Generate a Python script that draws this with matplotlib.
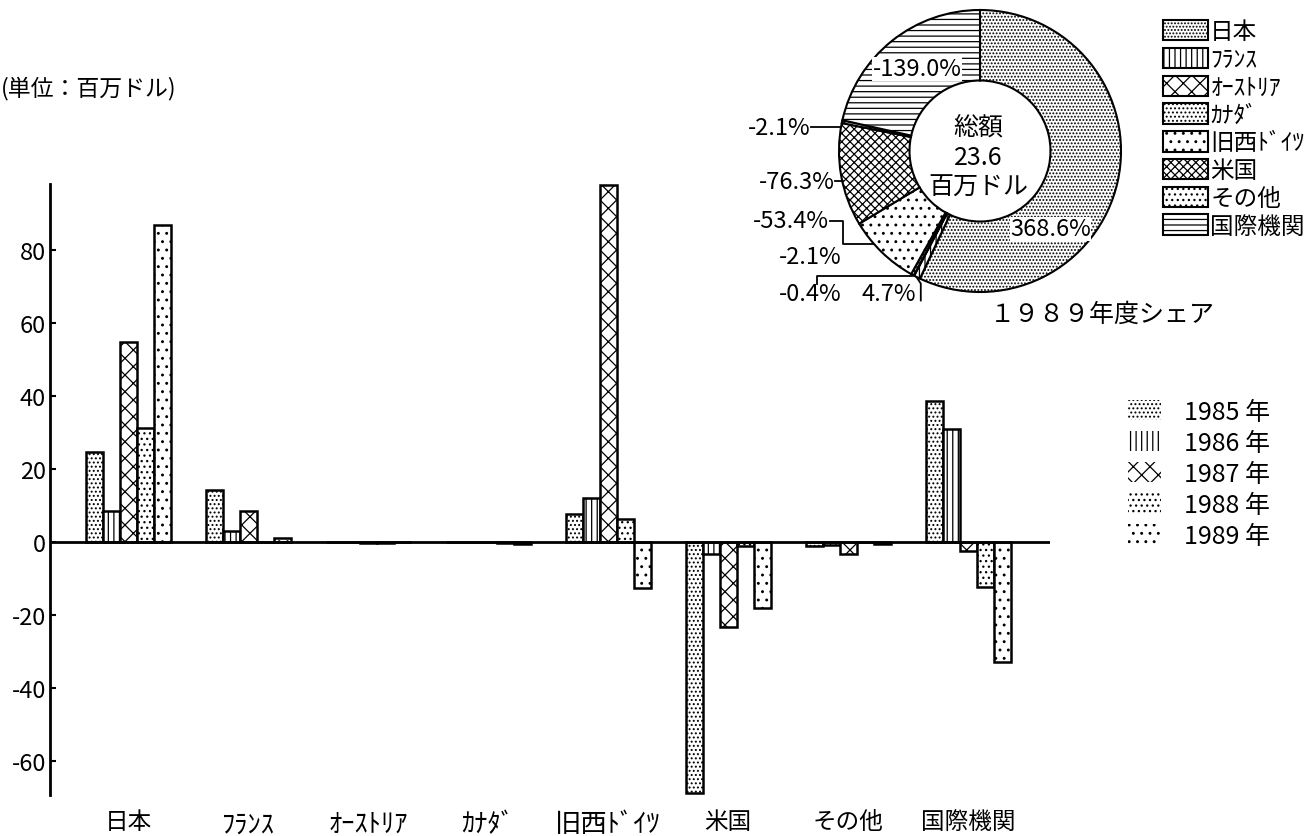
import matplotlib
matplotlib.use("Agg")
import matplotlib.pyplot as plt
import matplotlib.patches as mpatches
import numpy as np

plt.rcParams['font.family'] = ['Noto Sans CJK JP', 'DejaVu Sans']
plt.rcParams['axes.unicode_minus'] = False
plt.rcParams['hatch.linewidth'] = 0.9

# Bar chart data (million dollars)
countries = ['日本', 'ﾌﾗﾝｽ', 'ｵｰｽﾄﾘｱ', 'ｶﾅﾀﾞ', '旧西ﾄﾞｲﾂ', '米国', 'その他', '国際機関']
years = ['1985 年', '1986 年', '1987 年', '1988 年', '1989 年']
v1985 = [24.7, 14.2, 0.0, 0.0, 7.6, -68.8, -1.2, 38.8]
v1986 = [8.4, 2.9, 0.0, 0.0, 12.2, -3.3, -0.7, 31.0]
v1987 = [55.0, 8.4, -0.2, 0.0, 97.9, -23.2, -3.3, -2.4]
v1988 = [31.3, 0.0, -0.3, -0.2, 6.2, -1.0, 0.0, -12.4]
v1989 = [87.0, 1.1, -0.1, -0.5, -12.6, -18.0, -0.5, -32.8]
yticks = [-60, -40, -20, 0, 20, 40, 60, 80]

# 1989 share (donut)
share_names = ['日本', 'ﾌﾗﾝｽ', 'ｵｰｽﾄﾘｱ', 'ｶﾅﾀﾞ', '旧西ﾄﾞｲﾂ', '米国', 'その他', '国際機関']
share_pct = [368.6, 4.7, -0.4, -2.1, -53.4, -76.3, -2.1, -139.0]
share_total = 23.6

year_hatches = ['....', '|||', 'xx', '...', '..']
pie_hatches = ['.....', '|||', 'xx', '....', '..', 'xxxx', '...', '---']

W, H = 1316, 837
fig = plt.figure(figsize=(W / 100, H / 100), dpi=100)


def fx(px):
    return px / W


def fy(py):
    return 1 - py / H


def halfwidth(s):
    # half-width katakana labels look small, give them a larger size
    return any('\uff61' <= c <= '\uff9f' for c in s)


# ---- bar chart ----
ax = fig.add_axes([fx(50), fy(800), fx(1000), (800 - 184) / H])
series = [v1985, v1986, v1987, v1988, v1989]
x = np.arange(len(countries))
bw = 17 / 120
for j, vals in enumerate(series):
    ax.bar(x + (j - 2) * bw, vals, width=bw, color='white', edgecolor='black',
           linewidth=1.8, hatch=year_hatches[j], zorder=2)

ax.axhline(0, color='black', lw=2, zorder=3)
ax.set_xlim(-0.65, 7.683)
ax.set_ylim(-70.5, 98.5)
for s in ['top', 'right', 'bottom']:
    ax.spines[s].set_visible(False)
ax.spines['left'].set_linewidth(2)
ax.spines['left'].set_bounds(-69.3, 98.3)
ax.set_yticks(yticks)
ax.tick_params(axis='y', direction='in', length=4, width=1.5, pad=3, labelsize=17)
ax.set_xticks(x, countries, fontsize=17)
ax.tick_params(axis='x', length=0, pad=8)
for t in ax.get_xticklabels():
    if halfwidth(t.get_text()):
        t.set_fontsize(19)

fig.text(fx(1), fy(88), '(単位：百万ドル)', fontsize=16.5, ha='left', va='center')

# year legend
year_handles = [mpatches.Patch(facecolor='white', edgecolor='black', linewidth=0, hatch=h)
                for h in year_hatches]
fig.legend(year_handles, years, loc='upper left', bbox_to_anchor=(fx(1128), fy(400)),
           frameon=False, fontsize=18, handlelength=1.32, handleheight=0.85,
           handletextpad=0.9, labelspacing=0.2, borderpad=0, borderaxespad=0)

# ---- donut ----
pax = fig.add_axes([fx(839), fy(293), fx(282), 282 / H])
wedges, _ = pax.pie(np.abs(share_pct), startangle=90, counterclock=False,
                    wedgeprops=dict(width=0.5, facecolor='white', edgecolor='black', linewidth=1.5))
for w, h in zip(wedges, pie_hatches):
    w.set_hatch(h)
pax.set_xlim(-1, 1)
pax.set_ylim(-1, 1)
pax.set_aspect('equal')
pax.axis('off')

pax.text(-0.014, -0.04, f'総額\n{share_total}\n百万ドル', fontsize=18, ha='center',
         va='center', linespacing=1.2)

lab = [f'{p:.1f}%' for p in share_pct]
pax.text(0.50, -0.553, lab[0], fontsize=17, ha='center', va='center',
         bbox=dict(facecolor='white', edgecolor='none', pad=0.3))
pax.text(-0.645, -1.014, lab[1], fontsize=17, ha='center', va='center')
pax.text(-1.206, -1.014, lab[2], fontsize=17, ha='center', va='center')
pax.text(-1.206, -0.745, lab[3], fontsize=17, ha='center', va='center')
pax.text(-1.07, -0.496, lab[4], fontsize=17, ha='right', va='center')
pax.text(-1.03, -0.213, lab[5], fontsize=17, ha='right', va='center')
pax.text(-1.205, 0.17, lab[6], fontsize=17, ha='right', va='center')
pax.text(-0.447, 0.582, lab[7], fontsize=17, ha='center', va='center',
         bbox=dict(facecolor='white', edgecolor='none', pad=0.3))

leaders = [
    [(-1.20, 0.17), (-0.985, 0.17)],
    [(-1.025, -0.213), (-0.975, -0.213)],
    [(-1.065, -0.496), (-0.975, -0.496), (-0.975, -0.66), (-0.76, -0.66)],
    [(-1.156, -0.94), (-1.156, -0.887), (-0.48, -0.887)],
    [(-0.45, -0.895), (-0.42, -0.94), (-0.42, -1.06)],
]
for seg in leaders:
    xs, ys = zip(*seg)
    pax.plot(xs, ys, color='black', lw=1.3, clip_on=False)

pax.text(0.07, -1.156, '１９８９年度シェア', fontsize=18, ha='left', va='center')

leg = fig.legend(wedges, share_names, loc='upper left', bbox_to_anchor=(fx(1163), fy(21)),
                 frameon=False, fontsize=17, handlelength=1.9, handleheight=0.95,
                 handletextpad=0.1, labelspacing=0.19, borderpad=0, borderaxespad=0)

fig.savefig('out.png', dpi=100)
